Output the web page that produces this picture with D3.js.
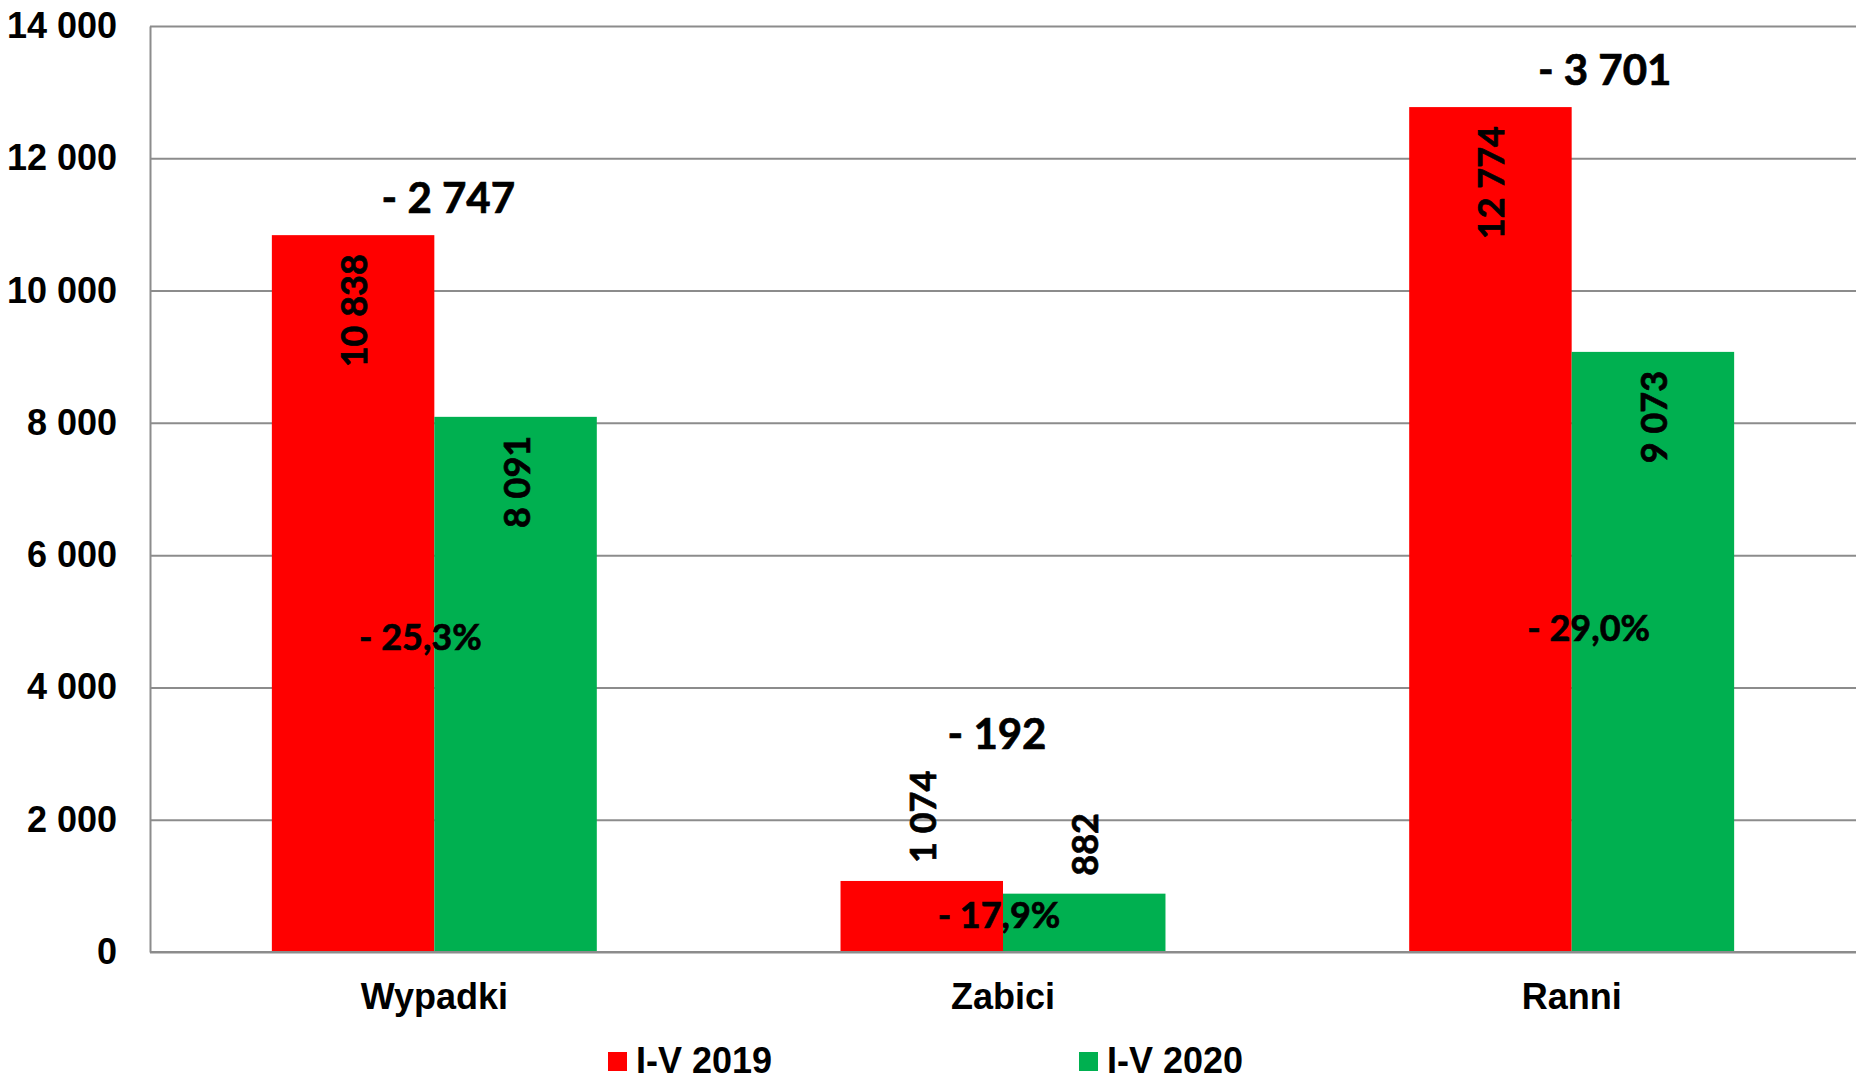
<!DOCTYPE html>
<html>
<head>
<meta charset="utf-8">
<script src="https://cdn.jsdelivr.net/npm/d3@7"></script>
<style>
  body { margin: 0; background: #fff; }
  svg { display: block; }
</style>
</head>
<body>
<div id="chart"></div>
<script>
// DATA
const categories = ["Wypadki", "Zabici", "Ranni"];
const seriesNames = ["I-V 2019", "I-V 2020"];
const values2019 = [10838, 1074, 12774];
const values2020 = [8091, 882, 9073];
const yTicks = [0, 2000, 4000, 6000, 8000, 10000, 12000, 14000];

// LAYOUT (annotation placement, hand tuned)
const diffLabelDx = [14, -6, 33];
const pctLabelDx = [-14, -4, 17];
const pctLabelAt = [4566, 363, 4702];

// CONSTANTS
const red = "#FF0000";
const green = "#00B050";
const gridColor = "#8c8c8c";
const width = 1861;
const height = 1081;
const margin = { top: 26, right: 5, bottom: 129, left: 150 };
const axisFont = "'Liberation Sans', Arial, sans-serif";
const labelFont = "Lato, 'Open Sans', sans-serif";

const locale = d3.formatLocale({
  decimal: ",",
  thousands: " ",
  grouping: [3],
  currency: ["", ""],
});
const fmt = locale.format(",");

const svg = d3
  .select("#chart")
  .append("svg")
  .attr("width", width)
  .attr("height", height);

const x0 = d3
  .scaleBand()
  .domain(categories)
  .range([margin.left, width - margin.right])
  .paddingInner(3 / 7)
  .paddingOuter(3 / 14);

const x1 = d3
  .scaleBand()
  .domain(seriesNames)
  .range([0, x0.bandwidth()]);

const y = d3
  .scaleLinear()
  .domain([0, 14000])
  .range([height - margin.bottom, margin.top]);

const colors = d3.scaleOrdinal().domain(seriesNames).range([red, green]);

// heavier look for the data labels
const boldLabel = (sel, size) =>
  sel
    .attr("font-family", labelFont)
    .attr("font-weight", "bold")
    .attr("font-size", size)
    .attr("fill", "#000")
    .attr("stroke", "#000")
    .attr("stroke-width", 0.7);

// y axis + gridlines
const yAxis = svg
  .append("g")
  .attr("transform", `translate(${margin.left},0)`)
  .call(
    d3
      .axisLeft(y)
      .tickValues(yTicks)
      .tickFormat(fmt)
      .tickSize(-(width - margin.left - margin.right))
      .tickSizeOuter(0)
      .tickPadding(33)
  );
yAxis.select(".domain").attr("stroke", gridColor).attr("stroke-width", 2);
yAxis.selectAll(".tick line").attr("stroke", gridColor).attr("stroke-width", 2);
yAxis
  .selectAll(".tick text")
  .attr("font-family", axisFont)
  .attr("font-weight", "bold")
  .attr("font-size", 36)
  .attr("fill", "#000");

// bars
const rows = categories.map((c, i) => ({
  cat: c,
  i: i,
  vals: [
    { key: seriesNames[0], value: values2019[i] },
    { key: seriesNames[1], value: values2020[i] },
  ],
}));

const groups = svg
  .selectAll(".group")
  .data(rows)
  .enter()
  .append("g")
  .attr("class", "group")
  .attr("transform", (d) => `translate(${x0(d.cat)},0)`);

groups
  .selectAll("rect")
  .data((d) => d.vals)
  .enter()
  .append("rect")
  .attr("x", (d) => x1(d.key))
  .attr("y", (d) => y(d.value))
  .attr("width", x1.bandwidth())
  .attr("height", (d) => y(0) - y(d.value))
  .attr("fill", (d) => colors(d.key));

// baseline over bars
svg
  .append("line")
  .attr("x1", margin.left)
  .attr("x2", width - margin.right)
  .attr("y1", y(0))
  .attr("y2", y(0))
  .attr("stroke", gridColor)
  .attr("stroke-width", 2);

// value labels (rotated)
const tops = rows.map(() => Infinity);
groups.each(function (g) {
  const grp = d3.select(this);
  g.vals.forEach((d) => {
    const cx = x1(d.key) + x1.bandwidth() / 2;
    const top = y(d.value);
    const t = grp
      .append("text")
      .attr("dominant-baseline", "central")
      .text(fmt(d.value));
    boldLabel(t, 36);
    const len = t.node().getComputedTextLength();
    const inside = y(0) - top > len + 40;
    const ty = inside ? top + 19 : top - 18;
    t.attr("text-anchor", inside ? "end" : "start").attr(
      "transform",
      `translate(${cx},${ty}) rotate(-90)`
    );
    const reach = inside ? top : top - 18 - len;
    tops[g.i] = Math.min(tops[g.i], reach);
  });
});

// difference labels
svg
  .selectAll(".diff")
  .data(rows)
  .enter()
  .append("text")
  .attr("class", "diff")
  .attr("x", (d) => x0(d.cat) + x0.bandwidth() / 2 + diffLabelDx[d.i])
  .attr("y", (d) => tops[d.i] - 22)
  .attr("text-anchor", "middle")
  .call(boldLabel, 42)
  .text((d) => "- " + fmt(d.vals[0].value - d.vals[1].value));

// percent labels
svg
  .selectAll(".pct")
  .data(rows)
  .enter()
  .append("text")
  .attr("class", "pct")
  .attr("x", (d) => x0(d.cat) + x0.bandwidth() / 2 + pctLabelDx[d.i])
  .attr("y", (d) => y(pctLabelAt[d.i]))
  .attr("text-anchor", "middle")
  .call(boldLabel, 36)
  .text((d) => {
    const p = ((d.vals[0].value - d.vals[1].value) / d.vals[0].value) * 100;
    return "- " + p.toFixed(1).replace(".", ",") + "%";
  });

// category labels
svg
  .selectAll(".cat")
  .data(categories)
  .enter()
  .append("text")
  .attr("class", "cat")
  .attr("x", (d) => x0(d) + x0.bandwidth() / 2)
  .attr("y", y(0) + 57)
  .attr("text-anchor", "middle")
  .attr("font-family", axisFont)
  .attr("font-weight", "bold")
  .attr("font-size", 36)
  .attr("fill", "#000")
  .text((d) => d);

// legend
const legendX = [608, 1079];
const legend = svg
  .selectAll(".legend")
  .data(seriesNames)
  .enter()
  .append("g")
  .attr("class", "legend")
  .attr("transform", (d, i) => `translate(${legendX[i]},1052)`);
legend
  .append("rect")
  .attr("width", 19)
  .attr("height", 19)
  .attr("fill", (d) => colors(d));
legend
  .append("text")
  .attr("x", 28)
  .attr("y", 21)
  .attr("font-family", axisFont)
  .attr("font-weight", "bold")
  .attr("font-size", 36)
  .attr("fill", "#000")
  .text((d) => d);
</script>
</body>
</html>
